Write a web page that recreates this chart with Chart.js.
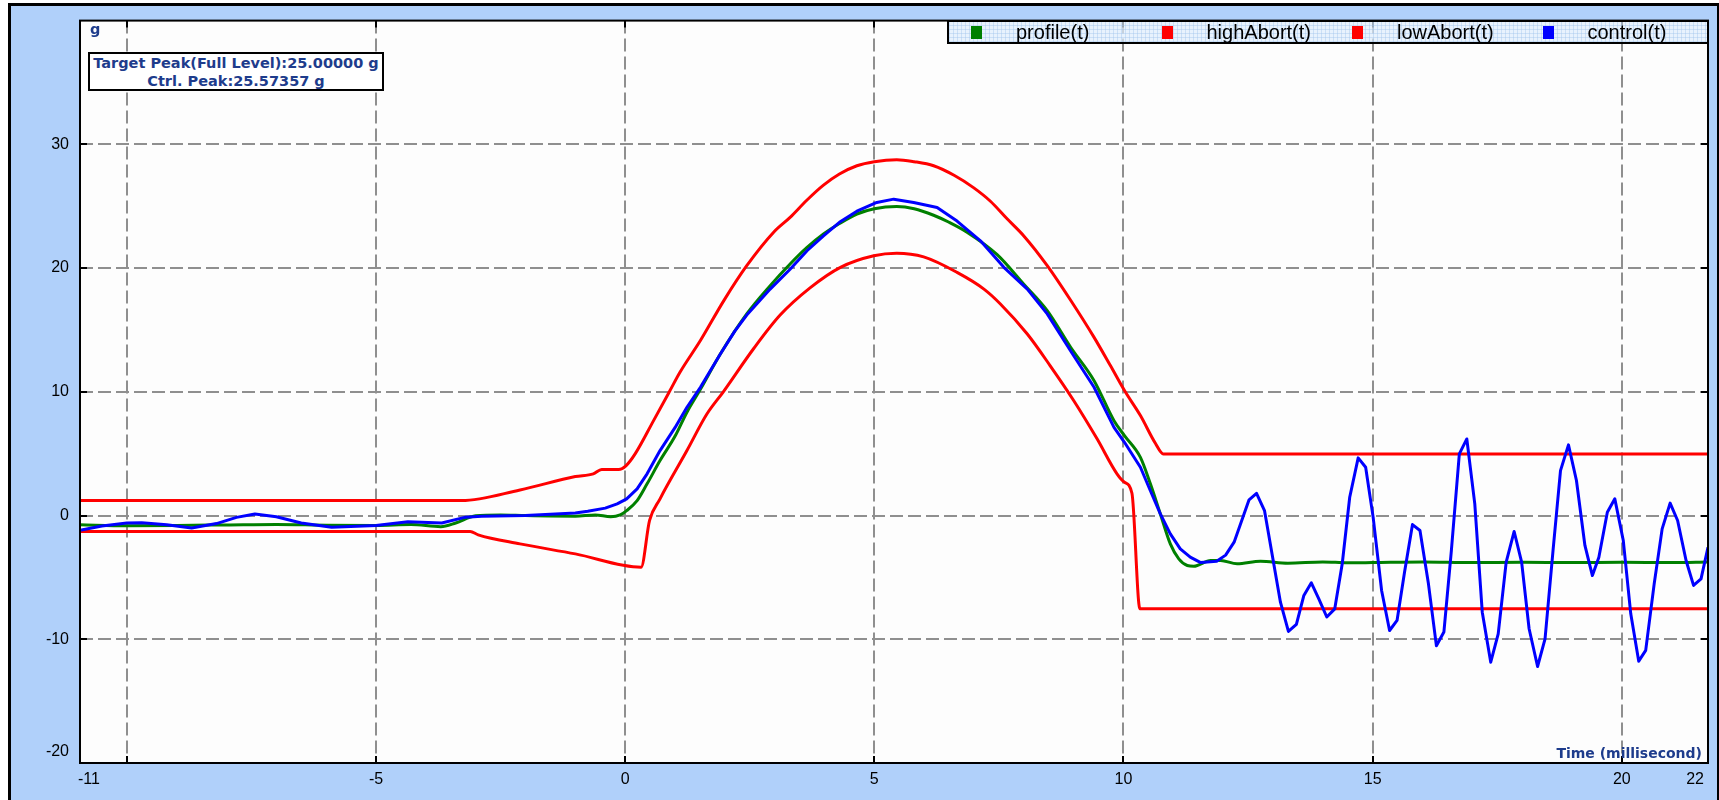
<!DOCTYPE html>
<html>
<head>
<meta charset="utf-8">
<title>Shock pulse - control vs profile</title>
<script src="https://cdn.jsdelivr.net/npm/chart.js@4.4.1/dist/chart.umd.min.js"></script>
<style>
  html, body { margin: 0; padding: 0; background: #fff; width: 1719px; height: 800px; overflow: hidden; }
  #frame {
    position: absolute; left: 8px; top: 3px; width: 1711px; height: 797px; box-sizing: border-box;
    background: #b0d0fa; border-left: 3px solid #000; border-top: 3px solid #000; border-right: 2px solid #000;
  }
  #c { position: absolute; left: 0; top: 0; }
  .note { position: absolute; font: bold 14.5px "DejaVu Sans", Verdana, sans-serif; color: #1e3c8c; line-height: 18px; white-space: nowrap; }
  #unit { left: 90px; top: 20px; }
  #timeTitle { right: 17px; top: 744px; font-size: 14px; }
  #peakBox {
    left: 88px; top: 52px; width: 296px; height: 39px; box-sizing: border-box;
    border: 2px solid #000; background: #fff; text-align: center;
    display: flex; flex-direction: column; justify-content: center;
  }
  #legend {
    position: absolute; left: 947px; top: 20px; width: 760px; height: 24px; box-sizing: border-box;
    border: 2px solid #000; border-right: none; padding-left: 22px;
    display: flex; align-items: center;
    background-color: rgba(222, 236, 252, 0.7);
    background-image:
      repeating-linear-gradient(0deg, rgba(150, 190, 235, 0.35) 0 1px, transparent 1px 4px),
      repeating-linear-gradient(90deg, rgba(150, 190, 235, 0.35) 0 1px, transparent 1px 4px);
  }
  .item { width: 190.5px; display: flex; align-items: center; flex: none; }
  .swatch { width: 11px; height: 13px; margin-right: 34px; flex: none; }
  .label { font: 20px "Liberation Sans", Arial, sans-serif; color: #000; line-height: 20px; }
</style>
</head>
<body>
<div id="frame"></div>
<canvas id="c" width="1719" height="800"></canvas>
<div id="unit" class="note">g</div>
<div id="peakBox" class="note">
  <div>Target Peak(Full Level):25.00000 g</div>
  <div>Ctrl. Peak:25.57357 g</div>
</div>
<div id="timeTitle" class="note">Time (millisecond)</div>
<div id="legend"></div>

<script>
// series names as in the legend
const seriesNames = ["profile(t)", "highAbort(t)", "lowAbort(t)", "control(t)"];
const seriesColors = ["#008000", "#ff0000", "#ff0000", "#0000ff"];

// profile(t)
const profileTime = [-10.94, -10.0, -9.0, -8.0, -7.0, -6.0, -5.0, -4.3, -3.7, -3.4, -3.0, -2.5, -2.0, -1.0,
  -0.6, -0.29, -0.1, 0.03, 0.24, 0.44, 0.7, 1.0, 1.24, 1.51, 1.91, 2.44, 2.91, 3.31, 3.65, 3.98, 4.3, 4.65,
  5.0, 5.45, 5.8, 6.19, 6.5, 6.86, 7.46, 8.0, 8.47, 8.94, 9.41, 9.81, 10.02, 10.34, 10.54, 10.74, 10.94,
  11.11, 11.28, 11.41, 11.75, 11.95, 12.28, 12.75, 13.3, 14.0, 14.5, 15.0, 16.0, 17.0, 18.0, 19.0, 20.0,
  21.0, 21.73];
const profileValue = [-0.75, -0.82, -0.8, -0.76, -0.72, -0.78, -0.8, -0.72, -0.9, -0.6, -0.02, 0.05, 0.0, -0.05,
  0.05, -0.1, 0.05, 0.4, 1.2, 2.56, 4.44, 6.4, 8.35, 10.2, 13.06, 16.3, 18.58, 20.33, 21.67, 22.75, 23.6, 24.37,
  24.8, 24.98, 24.8, 24.27, 23.7, 22.9, 21.1, 18.7, 16.56, 13.6, 10.9, 7.67, 6.46, 4.7, 2.56, 0.13, -2.29,
  -3.5, -4.04, -4.1, -3.63, -3.63, -3.9, -3.7, -3.85, -3.75, -3.82, -3.8, -3.75, -3.8, -3.78, -3.8, -3.78,
  -3.8, -3.75];

// highAbort(t)
const highTime = [-10.94, -3.28, -2.11, -1.0, -0.64, -0.47, -0.13, 0.02, 0.2, 0.57, 0.9, 1.1, 1.51, 1.98,
  2.44, 2.98, 3.31, 3.65, 3.98, 4.3, 4.65, 5.0, 5.45, 5.8, 6.19, 6.6, 6.99, 7.33, 7.66, 8.0, 8.47, 8.94,
  9.41, 9.74, 10.02, 10.34, 10.64, 10.8, 21.73];
const highValue = [1.21, 1.21, 2.07, 3.15, 3.37, 3.72, 3.72, 4.04, 4.98, 7.67, 10.1, 11.58, 14.14, 17.37,
  20.19, 22.9, 24.1, 25.5, 26.7, 27.6, 28.27, 28.6, 28.76, 28.6, 28.27, 27.5, 26.5, 25.4, 24.0, 22.6, 20.2, 17.4,
  14.4, 12.1, 10.1, 8.08, 5.84, 4.98, 4.98];

// lowAbort(t)
const lowTime = [-10.94, -3.11, -2.95, -2.11, -1.0, 0.32, 0.49, 0.7, 1.24, 1.64, 1.97, 2.58, 3.11, 3.71,
  4.32, 4.99, 5.45, 5.99, 6.66, 7.2, 7.53, 8.07, 8.53, 9.0, 9.47, 9.87, 10.02, 10.17, 10.33, 21.73];
const lowValue = [-1.29, -1.29, -1.56, -2.29, -3.1, -4.17, -0.4, 1.35, 5.25, 8.2, 10.0, 13.5, 16.2, 18.4,
  20.06, 21.0, 21.2, 20.9, 19.65, 18.3, 17.1, 14.67, 12.1, 9.3, 6.2, 3.37, 2.69, 1.8, -7.54, -7.54];

// control(t)
const controlTime = [-10.94, -10.5, -10.0, -9.7, -9.2, -8.7, -8.2, -7.8, -7.43, -7.0, -6.5, -5.89, -5.0, -4.36,
  -3.68, -3.2, -2.88, -2.0, -1.0, -0.75, -0.4, -0.16, 0.03, 0.24, 0.44, 0.7, 1.0, 1.24, 1.51, 1.91, 2.2, 2.44,
  2.91, 3.31, 3.65, 3.98, 4.3, 4.65, 5.05, 5.39, 5.79, 6.26, 6.66, 7.13, 7.6, 8.07, 8.47, 8.94, 9.41, 9.81,
  10.02, 10.34, 10.54, 10.74, 10.94, 11.14, 11.34, 11.55, 11.87, 12.05, 12.22, 12.52, 12.67, 12.83, 13.15,
  13.31, 13.47, 13.62, 13.77, 13.92, 14.08, 14.24, 14.39, 14.54, 14.71, 14.86, 15.01, 15.18, 15.34, 15.49,
  15.64, 15.8, 15.95, 16.12, 16.28, 16.43, 16.58, 16.74, 16.89, 17.05, 17.2, 17.37, 17.52, 17.68, 17.84,
  17.99, 18.14, 18.31, 18.46, 18.62, 18.77, 18.93, 19.09, 19.26, 19.41, 19.54, 19.71, 19.86, 20.03, 20.18,
  20.34, 20.48, 20.65, 20.81, 20.97, 21.12, 21.29, 21.44, 21.59, 21.73];
const controlValue = [-1.2, -0.85, -0.6, -0.58, -0.75, -1.0, -0.65, -0.15, 0.13, -0.1, -0.6, -0.94, -0.8, -0.5,
  -0.6, -0.13, -0.05, 0.0, 0.2, 0.35, 0.6, 0.94, 1.35, 2.15, 3.37, 5.25, 7.1, 8.75, 10.36, 13.06, 14.9, 16.2,
  18.3, 19.9, 21.4, 22.6, 23.7, 24.6, 25.3, 25.57, 25.3, 24.9, 23.8, 22.2, 20.06, 18.3, 16.3, 13.3, 10.37, 7.13,
  5.92, 3.9, 2.0, 0.13, -1.48, -2.69, -3.36, -3.8, -3.7, -3.2, -2.15, 1.27, 1.8, 0.4, -7.0,
  -9.37, -8.8, -6.46, -5.44, -6.73, -8.2, -7.54, -3.9, 1.48, 4.66, 3.9, -0.13, -6.06, -9.29, -8.48,
  -4.58, -0.73, -1.21, -5.52, -10.53, -9.42, -2.83, 4.98, 6.19, 0.94, -7.81, -11.85, -9.56, -3.77, -1.29,
  -3.77, -9.15, -12.2, -9.96, -2.83, 3.63, 5.71, 2.83, -2.42, -4.85, -3.37, 0.27, 1.35, -2.02, -7.94,
  -11.77, -10.9, -5.52, -1.08, 1.0, -0.4, -3.63, -5.65, -5.12, -2.56];

// axes
const xMin = -10.94, xMax = 21.73;
const yMin = -20, yMax = 40;
const xGridValues = [-10, -5, 0, 5, 10, 15, 20];
const yGridValues = [-10, 0, 10, 20, 30];
// end labels sit just inside the plot edges
const xTickValues = [-10.76, -10, -5, 0, 5, 10, 15, 20, 21.47];
const xTickLabels = ["-11", "", "-5", "0", "5", "10", "15", "20", "22"];
const yTickValues = [-19.1, -10, 0, 10, 20, 30];
const yTickLabels = ["-20", "-10", "0", "10", "20", "30"];

const gridColor = "#8f8f8f";
const tickFont = { family: "'Liberation Sans', Arial, sans-serif", size: 16 };

// legend (html)
const legend = document.getElementById("legend");
seriesNames.forEach((name, i) => {
  const item = document.createElement("div");
  item.className = "item";
  item.innerHTML = `<span class="swatch" style="background:${seriesColors[i]}"></span><span class="label">${name}</span>`;
  legend.appendChild(item);
});

const toPoints = (ts, vs) => ts.map((t, i) => ({ x: t, y: vs[i] }));

const plotFrame = {
  id: "plotFrame",
  beforeDraw(chart) {
    const { ctx, chartArea: a } = chart;
    ctx.save();
    ctx.fillStyle = "#fdfdfd";
    ctx.fillRect(a.left, a.top, a.right - a.left, a.bottom - a.top);
    ctx.restore();
  },
  afterDatasetsDraw(chart) {
    const { ctx, chartArea: a, scales } = chart;
    ctx.save();
    ctx.strokeStyle = "#000";
    ctx.lineWidth = 2;
    ctx.beginPath();
    xGridValues.forEach(v => {
      const px = Math.round(scales.x.getPixelForValue(v));
      ctx.moveTo(px, a.top); ctx.lineTo(px, a.top + 7);
      ctx.moveTo(px, a.bottom); ctx.lineTo(px, a.bottom - 7);
    });
    yGridValues.forEach(v => {
      const py = Math.round(scales.y.getPixelForValue(v));
      ctx.moveTo(a.left, py); ctx.lineTo(a.left + 7, py);
      ctx.moveTo(a.right, py); ctx.lineTo(a.right - 7, py);
    });
    ctx.stroke();
    ctx.strokeRect(a.left, a.top, a.right - a.left, a.bottom - a.top);
    ctx.restore();
  }
};

// smooth: profile and abort limits are drawn as smooth curves, control as raw samples
const makeSet = (i, ts, vs, order, smooth) => ({
  label: seriesNames[i],
  data: toPoints(ts, vs),
  borderColor: seriesColors[i],
  backgroundColor: seriesColors[i],
  borderWidth: 3,
  borderJoinStyle: "round",
  pointRadius: 0,
  tension: smooth ? 0.4 : 0,
  cubicInterpolationMode: smooth ? "monotone" : "default",
  fill: false,
  order
});

new Chart(document.getElementById("c"), {
  type: "line",
  data: {
    datasets: [
      makeSet(0, profileTime, profileValue, 1, true),
      makeSet(1, highTime, highValue, 2, true),
      makeSet(2, lowTime, lowValue, 2, true),
      makeSet(3, controlTime, controlValue, 0, false)
    ]
  },
  options: {
    responsive: false,
    devicePixelRatio: 1,
    animation: false,
    events: [],
    layout: { padding: { top: 20, right: 11, left: 0, bottom: 0 } },
    plugins: { legend: { display: false }, tooltip: { enabled: false } },
    scales: {
      x: {
        type: "linear",
        min: xMin,
        max: xMax,
        afterBuildTicks: s => { s.ticks = xTickValues.map(v => ({ value: v })); },
        afterFit: s => { s.height = 37; },
        ticks: {
          autoSkip: false,
          maxRotation: 0,
          padding: 7,
          color: "#000",
          font: tickFont,
          callback: (v, i) => xTickLabels[i]
        },
        grid: {
          drawTicks: false,
          lineWidth: 2,
          color: c => (c.tick && xGridValues.includes(c.tick.value)) ? gridColor : "rgba(0,0,0,0)"
        },
        border: { display: false, dash: [13, 5] }
      },
      y: {
        type: "linear",
        min: yMin,
        max: yMax,
        afterBuildTicks: s => { s.ticks = yTickValues.map(v => ({ value: v })); },
        afterFit: s => { s.width = 80; },
        ticks: {
          autoSkip: false,
          padding: 11,
          color: "#000",
          font: tickFont,
          callback: (v, i) => yTickLabels[i]
        },
        grid: {
          drawTicks: false,
          lineWidth: 2,
          color: c => (c.tick && yGridValues.includes(c.tick.value)) ? gridColor : "rgba(0,0,0,0)"
        },
        border: { display: false, dash: [13, 5] }
      }
    }
  },
  plugins: [plotFrame]
});
</script>
</body>
</html>
